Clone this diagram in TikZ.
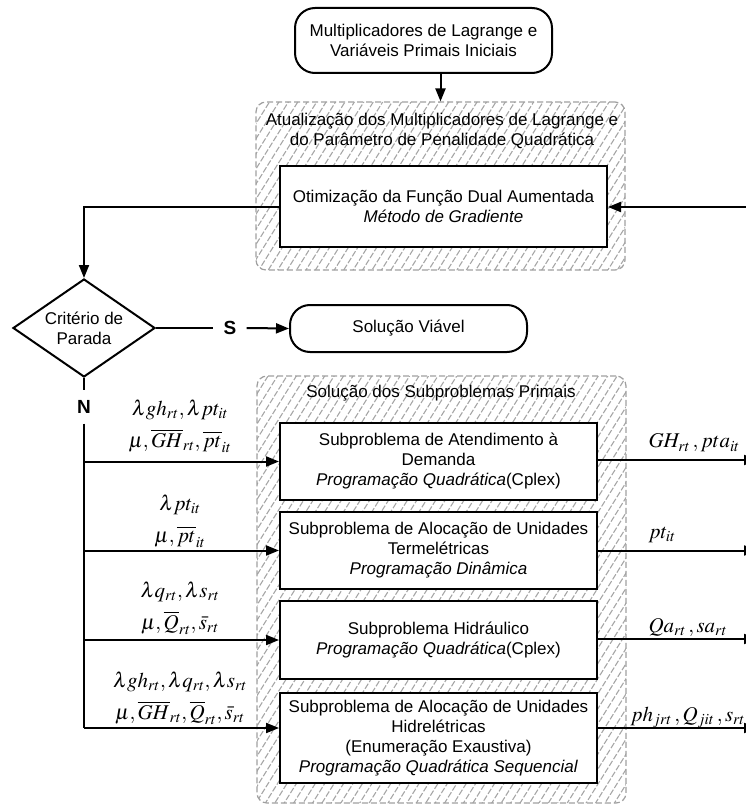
\documentclass[tikz,border=0pt]{standalone}
\usepackage{mathptmx}
\usepackage[no-math]{fontspec}
\setmainfont{Liberation Sans}
\usetikzlibrary{shapes.geometric}
\usetikzlibrary{arrows.meta}
\usetikzlibrary{patterns.meta}
\usetikzlibrary{positioning}
\tikzset{
every node/.style={font=\fontsize{17}{20}\selectfont, align=center},
terminal/.style={ % Start and end boxes
draw, line width=2pt, rounded corners=20pt, fill=white},
process/.style={ % Sets the properties for each step
draw, line width=2pt, fill=white, minimum width=317pt},
decision/.style={diamond, draw, line width=2pt, fill=white,
inner sep=0pt, shape aspect=1.45},
group/.style={ % Hatched frame round a stage
draw=gray!75, dash pattern=on 6pt off 3pt, line width=1.2pt,
rounded corners=10pt, pattern={Lines[angle=58,distance=8pt,line width=1.1pt]},
pattern color=gray!70},
branch/.style={font=\fontsize{19}{20}\selectfont\bfseries, inner sep=10pt},
var/.style={font=\fontsize{21}{32}\selectfont},
line/.style={draw, line width=2pt},
flow/.style={line, -{Triangle[length=13pt,width=10pt]}}}

\begin{document}
\begin{tikzpicture}[x=1pt, y=-1pt]
	\useasboundingbox (0,0) rectangle (746,805);
	% stage frames
	\node[group, minimum width=369pt, minimum height=168pt] (upd) at (440.5,186) {};
	\node[group, minimum width=369pt, minimum height=427pt] (prim) at (441.5,589.5) {};
	\node (updtitle) at (442,131) {Atualização dos Multiplicadores de Lagrange e\\do Parâmetro de Penalidade Quadrática};
	\node (primtitle) at (441,393) {Solução dos Subproblemas Primais};
	% steps
	\node[terminal, minimum width=257pt, minimum height=65pt] (start) at (423.5,40.5) {Multiplicadores de Lagrange e\\Variáveis Primais Iniciais};
	\node[process, minimum width=327pt, minimum height=81pt] (dual) at (443.5,206.5) {Otimização da Função Dual Aumentada\\\textit{Método de Gradiente}};
	\node[decision, minimum width=142pt, minimum height=98pt] (crit) at (84,328) {Critério de\\Parada};
	\node[terminal, minimum width=237pt, minimum height=47pt] (viavel) at (408.5,328.5) {Solução Viável};
	\node[branch] (slab) at (230,328) {S};
	\node[branch] (nlab) at (84,407) {N};
	\node[process, minimum height=77pt] (sA) at (438.5,461.5) {Subproblema de Atendimento à\\Demanda\\\textit{Programação Quadrática}(Cplex)};
	\node[process, minimum height=77pt] (sB) at (438.5,550.5) {Subproblema de Alocação de Unidades\\Termelétricas\\\textit{Programação Dinâmica}};
	\node[process, minimum height=78pt] (sC) at (438.5,640) {Subproblema Hidráulico\\\textit{Programação Quadrática}(Cplex)};
	\node[process, minimum height=90pt] (sD) at (438.5,738) {Subproblema de Alocação de Unidades\\Hidrelétricas\\(Enumeração Exaustiva)\\\textit{Programação Quadrática Sequencial}};
	% multipliers passed to each subproblem
	\node[var] (vA) at (180,426) {$\lambda gh_{rt}, \lambda pt_{it}$\\$\mu, \overline{GH}_{rt}, \overline{pt}_{it}$};
	\node[var] (vB) at (180,521) {$\lambda pt_{it}$\\$\mu, \overline{pt}_{it}$};
	\node[var] (vC) at (180,608) {$\lambda q_{rt}, \lambda s_{rt}$\\$\mu, \overline{Q}_{rt}, \bar{s}_{rt}$};
	\node[var] (vD) at (180,698) {$\lambda gh_{rt}, \lambda q_{rt}, \lambda s_{rt}$\\$\mu, \overline{GH}_{rt}, \overline{Q}_{rt}, \bar{s}_{rt}$};
	% results
	\node[var, anchor=west] (rA) at (645,443) {$GH_{rt}\,, pta_{it}$};
	\node[var, anchor=west] (rB) at (645,535) {$pt_{it}$};
	\node[var, anchor=west] (rC) at (645,627) {$Qa_{rt}\,, sa_{rt}$};
	\node[var, anchor=west] (rD) at (627,717) {$ph_{jrt}\,, Q_{jit}\,, s_{rt}$};
	\coordinate (nD) at (84,728);
	\coordinate (fb) at (756,207);
	\coordinate (out) at (757,0);
	% connectors
	\draw[flow] (start.south -| upd.north) -- (upd.north);
	\draw[flow] (dual.west) -| (crit.north);
	\draw[line] (crit.east) -- (slab.west);
	\draw[flow] (slab.east) -- (viavel.west);
	\draw[line] (crit.south) -- (nlab.north);
	\draw[line] (nlab.south) -- (nD);
	\draw[flow] (sA.west -| nlab) -- (sA.west);
	\draw[flow] (sB.west -| nlab) -- (sB.west);
	\draw[flow] (sC.west -| nlab) -- (sC.west);
	\draw[flow] (nD) -- (nD -| sD.west);
	\draw[flow] ([yshift=1.5pt]sA.east) -- ([yshift=1.5pt]sA.east -| out);
	\draw[flow] (sB.east) -- (sB.east -| out);
	\draw[flow] ([yshift=1pt]sC.east) -- ([yshift=1pt]sC.east -| out);
	\draw[flow] (nD -| sD.east) -- (nD -| out);
	\draw[flow] (fb) -- (fb -| dual.east);
\end{tikzpicture}
\end{document}
